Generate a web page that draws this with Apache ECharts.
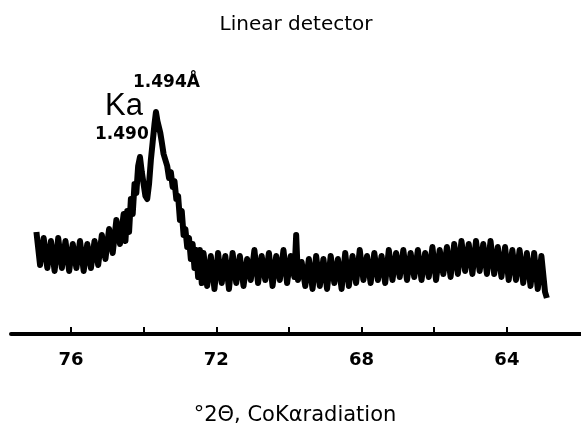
<!DOCTYPE html>
<html>
<head>
<meta charset="utf-8">
<script src="https://cdn.jsdelivr.net/npm/echarts@6/dist/echarts.min.js"></script>
<style>
  html, body { margin: 0; padding: 0; background: #fff; }
  #chart { width: 581px; height: 425px; }
</style>
</head>
<body>
<div id="chart"></div>
<script>
// scan: [2theta (deg), intensity (arb.)]
var scan = [
    [76.95, 34], [76.85, 23], [76.75, 32], [76.65, 22], [76.55, 31], [76.45, 21], [76.35, 32], [76.25, 22], [76.15, 31], [76.05, 21],
    [75.95, 30], [75.85, 22], [75.75, 31], [75.65, 21], [75.55, 30], [75.45, 22], [75.35, 31], [75.25, 23], [75.15, 33], [75.05, 25],
    [74.95, 35], [74.85, 27], [74.75, 38], [74.65, 30], [74.55, 40], [74.5, 31], [74.45, 41], [74.4, 34], [74.35, 45], [74.3, 40],
    [74.25, 50], [74.2, 47], [74.15, 56], [74.1, 59], [74.05, 54], [74.0, 50], [73.95, 46], [73.9, 45], [73.85, 50], [73.8, 58],
    [73.75, 64], [73.7, 70], [73.66, 74], [73.62, 71], [73.58, 69], [73.54, 67], [73.5, 64], [73.45, 60], [73.4, 58], [73.35, 56],
    [73.3, 52], [73.25, 54], [73.2, 49], [73.15, 51], [73.1, 45], [73.05, 46], [73.0, 38], [72.95, 41], [72.9, 33], [72.85, 35],
    [72.8, 29], [72.75, 32], [72.7, 25], [72.65, 30], [72.6, 22], [72.55, 28], [72.5, 19], [72.45, 28], [72.4, 17],
    [72.35, 27], [72.25, 16], [72.15, 26], [72.05, 15], [71.95, 27], [71.85, 17], [71.75, 26], [71.65, 15], [71.55, 27], [71.45, 17],
    [71.35, 26], [71.25, 16], [71.15, 25], [71.05, 18], [70.95, 28], [70.85, 17], [70.75, 26], [70.65, 18], [70.55, 27], [70.45, 16],
    [70.35, 26], [70.25, 18], [70.15, 28], [70.05, 17], [69.95, 26], [69.85, 19], [69.8, 33], [69.75, 18], [69.65, 24], [69.55, 16],
    [69.45, 25], [69.35, 15], [69.25, 26], [69.15, 16], [69.05, 25], [68.95, 15], [68.85, 26], [68.75, 17], [68.65, 25], [68.55, 15],
    [68.45, 27], [68.35, 16], [68.25, 26], [68.15, 17], [68.05, 28], [67.95, 18], [67.85, 26], [67.75, 17], [67.65, 27], [67.55, 18],
    [67.45, 26], [67.35, 17], [67.25, 28], [67.15, 18], [67.05, 27], [66.95, 19], [66.85, 28], [66.75, 18], [66.65, 27], [66.55, 19],
    [66.45, 28], [66.35, 18], [66.25, 27], [66.15, 19], [66.05, 29], [65.95, 18], [65.85, 28], [65.75, 20], [65.65, 29], [65.55, 19],
    [65.45, 30], [65.35, 20], [65.25, 31], [65.15, 21], [65.05, 30], [64.95, 20], [64.85, 31], [64.75, 21], [64.65, 30], [64.55, 20],
    [64.45, 31], [64.35, 20], [64.25, 29], [64.15, 19], [64.05, 29], [63.95, 18], [63.85, 28], [63.75, 18], [63.65, 28], [63.55, 17],
    [63.45, 27], [63.35, 16], [63.25, 27], [63.15, 15], [63.05, 26], [62.95, 14], [62.9, 12]
];
var tickValues = [76, 74, 72, 70, 68, 66, 64];
var labelValues = [76, 72, 68, 64];

var sans = '"DejaVu Sans", sans-serif';
var helv = '"Liberation Sans", Arial, sans-serif';
var myChart = echarts.init(document.getElementById('chart'));
var option = {
    animation: false,
    title: [{
        text: 'Linear detector',
        left: 291, top: 10, textAlign: 'center',
        textStyle: { fontFamily: sans, fontSize: 20, fontWeight: 'normal', color: '#000' }
    }, {
        text: '°2Θ, CoKαradiation',
        left: 290, top: 400, textAlign: 'center',
        textStyle: { fontFamily: sans, fontSize: 21, fontWeight: 'normal', color: '#000' }
    }],
    grid: { left: 11, right: 0, top: 34, bottom: 91 },
    xAxis: {
        type: 'value',
        inverse: true,
        min: 61.96,
        max: 77.65,
        splitLine: { show: false },
        axisLine: { lineStyle: { color: '#000', width: 4 } },
        axisTick: {
            inside: true, length: 7,
            customValues: tickValues,
            lineStyle: { color: '#000', width: 2 }
        },
        axisLabel: {
            customValues: labelValues,
            margin: 17,
            fontFamily: sans, fontSize: 18, fontWeight: 'bold', color: '#000'
        }
    },
    yAxis: {
        type: 'value', min: 0, max: 100, show: false
    },
    graphic: [
        { type: 'text', left: 105, top: 91, style: { text: 'Ka', font: '31px ' + helv, fill: '#000' } },
        { type: 'text', left: 133, top: 74, style: { text: '1.494Å', font: 'bold 17px ' + sans, fill: '#000' } },
        { type: 'text', left: 95, top: 126, style: { text: '1.490', font: 'bold 17px ' + sans, fill: '#000' } }
    ],
    series: [{
        type: 'line',
        data: scan,
        showSymbol: false,
        lineStyle: { color: '#000', width: 6, join: 'round' }
    }]
};
myChart.setOption(option);
</script>
</body>
</html>
